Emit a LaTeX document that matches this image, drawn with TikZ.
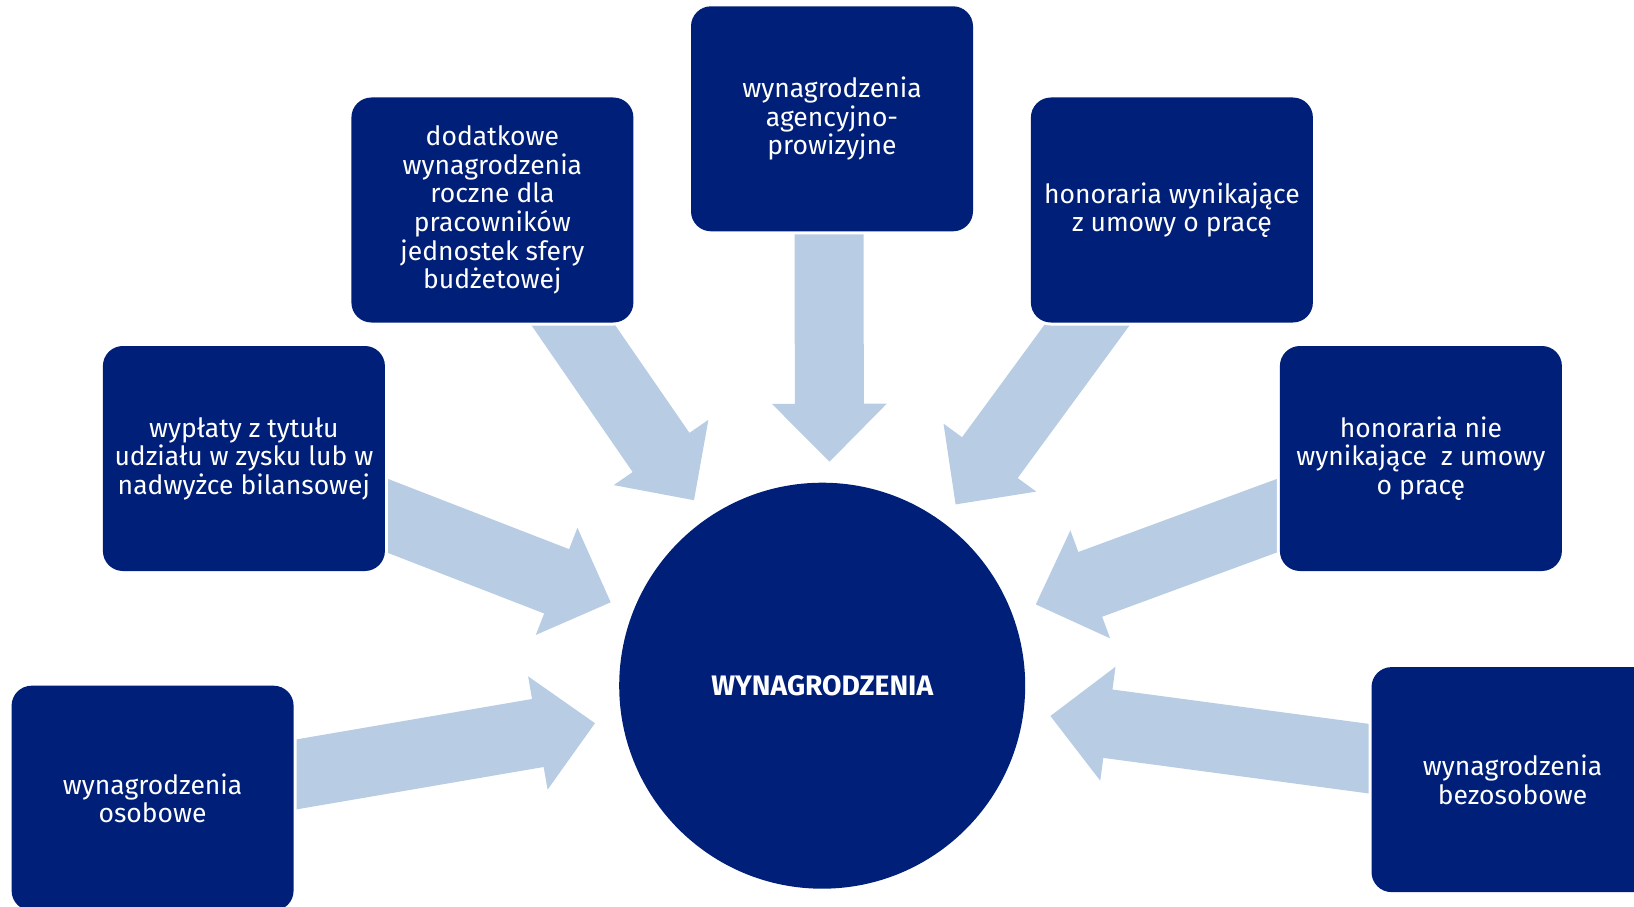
\documentclass[tikz,border=0pt]{standalone}
\usepackage{fontspec}
\setmainfont{Fira Sans}
\usetikzlibrary{calc,backgrounds}
\definecolor{navy}{RGB}{0,31,120}
\definecolor{lightarrow}{RGB}{184,204,228}
\tikzset{
  box/.style={fill=navy, preaction={draw=white, line width=6pt}, rounded corners=20pt,
    minimum width=282pt, minimum height=225pt,
    text=white, align=center, font=\fontsize{26.5}{28.6}\selectfont, inner sep=0pt},
  hub/.style={circle, fill=navy, minimum size=406pt, text=white,
    font=\fontsize{28.2}{32}\selectfont\bfseries, inner sep=0pt},
  arrowfill/.style={fill=lightarrow},
}
\newcommand\bigarrow[2]{%
 \coordinate (tx) at ($(#1)!-45pt!(#2)$);
 \fill[arrowfill] ($(tx)!34.5pt!90:(#2)$)
   -- ($($(#2)!58pt!(#1)$)!34.5pt!90:(#2)$)
   -- ($($(#2)!58pt!(#1)$)!57.5pt!90:(#2)$)
   -- (#2)
   -- ($($(#2)!58pt!(#1)$)!57.5pt!-90:(#2)$)
   -- ($($(#2)!58pt!(#1)$)!34.5pt!-90:(#2)$)
   -- ($(tx)!34.5pt!-90:(#2)$) -- cycle;}
\begin{document}
\begin{tikzpicture}[x=1pt,y=-1pt]
\useasboundingbox (0,0) rectangle (1634,907);
\node[hub] (hub) at (822.2,685.7) {WYNAGRODZENIA};
\node[box] (osob) at (152.6,798.2) {wynagrodzenia\\osobowe};
\node[box] (wypl) at (243.9,458.5) {wypłaty z tytułu\\udziału w zysku lub w\\nadwyżce bilansowej};
\node[box] (dod) at (492.4,210) {dodatkowe\\wynagrodzenia\\roczne dla\\pracowników\\jednostek sfery\\budżetowej};
\node[box] (agen) at (832,118.8) {wynagrodzenia\\agencyjno-\\prowizyjne};
\node[box] (hon) at (1171.9,210) {honoraria wynikające\\z umowy o pracę};
\node[box] (honnie) at (1420.9,458.5) {honoraria nie\\wynikające\ \ z umowy\\o pracę};
\node[box] (bezo) at (1512.5,779.6) {wynagrodzenia\\bezosobowe};
% arrow end points
\coordinate (t1) at (297,774.3);   \coordinate (h1) at (595,723.2);
\coordinate (t2) at (387.7,515.8); \coordinate (h2) at (610.7,602.3);
\coordinate (t3) at (573.2,325.1); \coordinate (h3) at (694,500.2);
\coordinate (t4) at (829,234.5);   \coordinate (h4) at (829.5,461.7);
\coordinate (t5) at (1087,325.1);  \coordinate (h5) at (955.6,504.4);
\coordinate (t6) at (1276.6,515.8);\coordinate (h6) at (1035.8,604.4);
\coordinate (t7) at (1368.3,758.6);\coordinate (h7) at (1050.4,716);
\begin{scope}[on background layer]
\bigarrow{t1}{h1}
\bigarrow{t2}{h2}
\bigarrow{t3}{h3}
\bigarrow{t4}{h4}
\bigarrow{t5}{h5}
\bigarrow{t6}{h6}
\bigarrow{t7}{h7}
\end{scope}
\end{tikzpicture}
\end{document}
